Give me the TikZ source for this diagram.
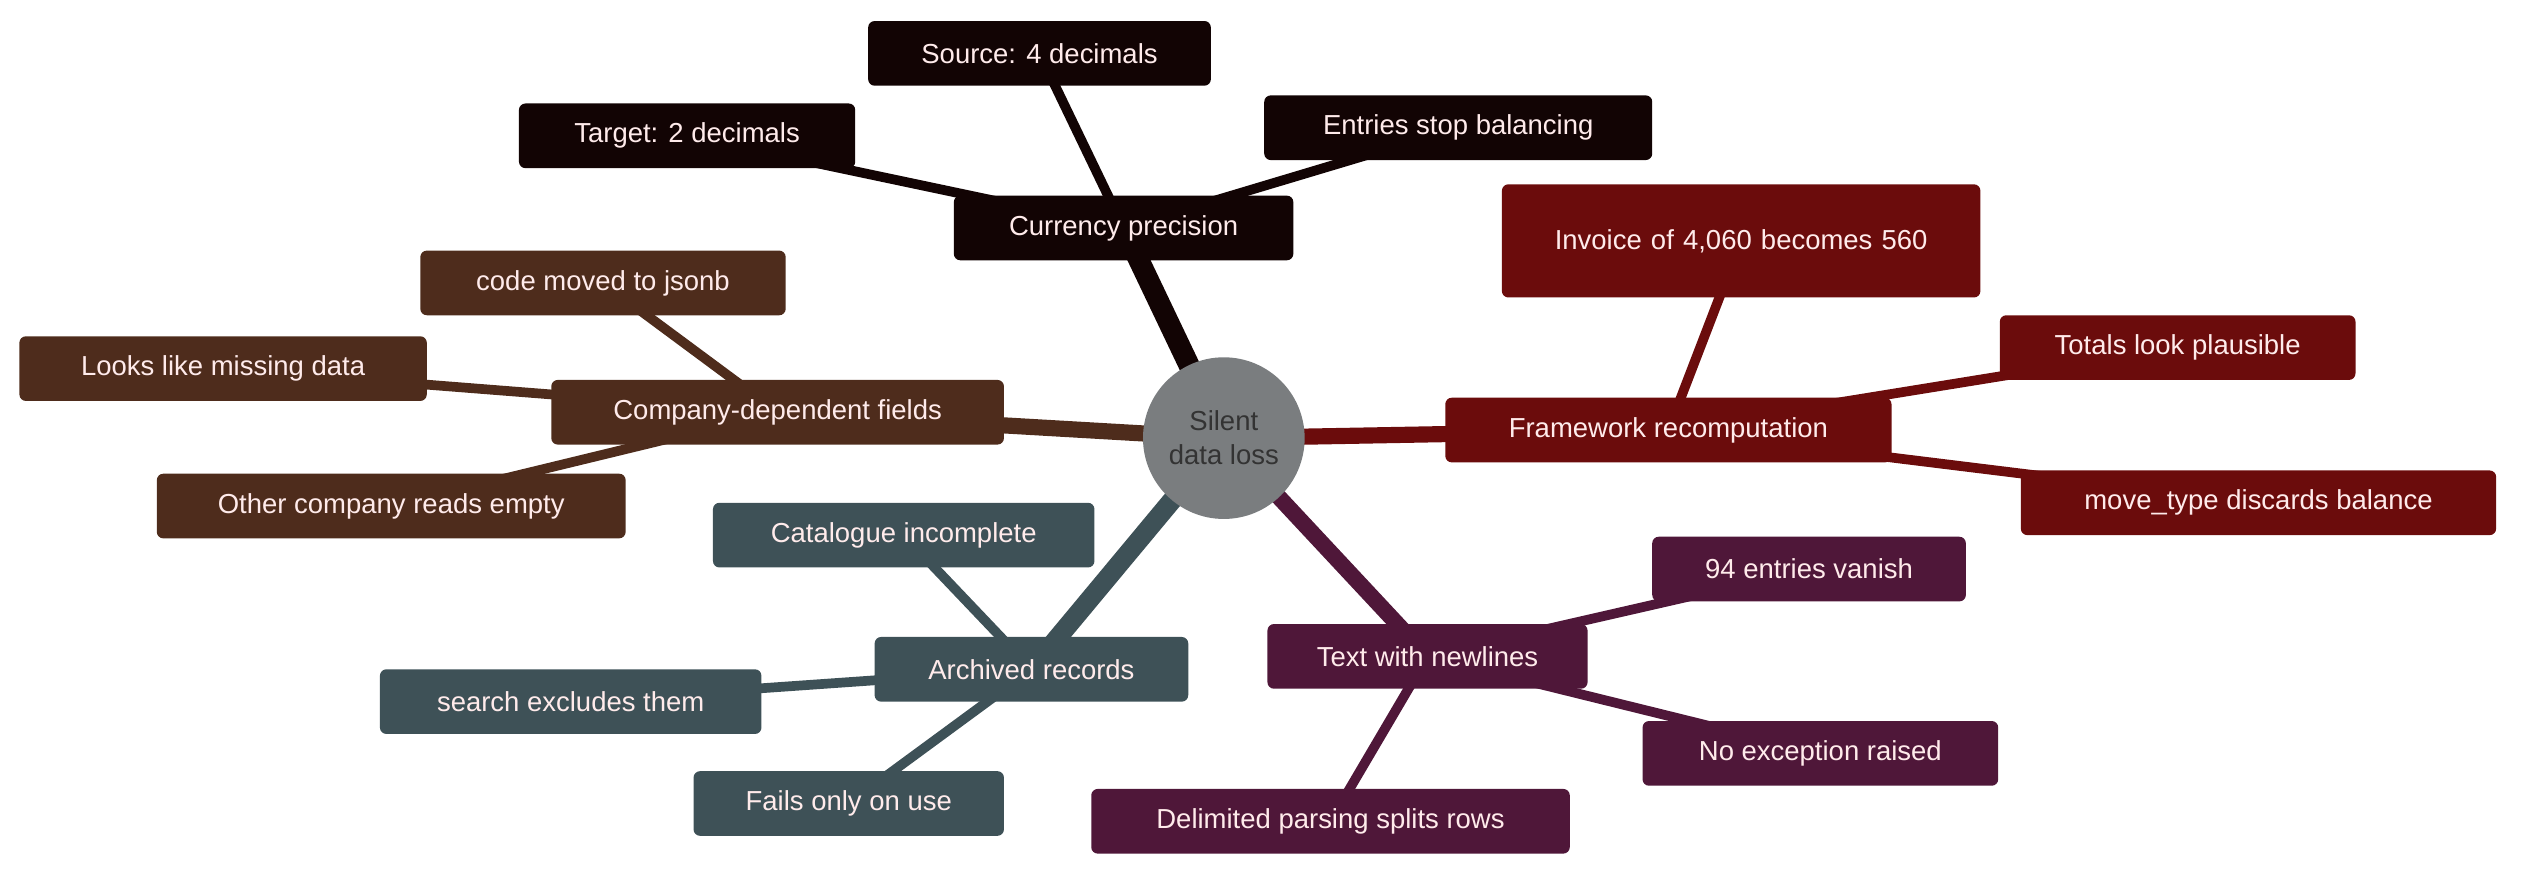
\documentclass[tikz,border=0pt]{standalone}
\usepackage{fontspec}
\setmainfont{Liberation Sans}
\usetikzlibrary{backgrounds}
\definecolor{cprec}{HTML}{120404}
\definecolor{frame}{HTML}{6B0C0C}
\definecolor{newl}{HTML}{4F1739}
\definecolor{arch}{HTML}{3E5157}
\definecolor{comp}{HTML}{4E2C1C}
\definecolor{hub}{HTML}{7A7D7F}
\tikzstyle{leaf}=[rectangle, rounded corners=2pt, text=white!92!red, minimum height=20pt,
                  inner sep=2pt, font=\fontsize{8.5}{10.5}\selectfont, align=center]
\tikzstyle{mainln}=[-, line width=5pt]
\tikzstyle{subln}=[-, line width=3pt]
\begin{document}
\begin{tikzpicture}[x=0.5pt,y=-0.5pt]
\useasboundingbox (0,0) rectangle (1560,542);

\node (HUB) [circle, fill=hub, minimum size=50pt, inner sep=0pt, align=center,
 font=\fontsize{8.5}{10.5}\selectfont, text=black!80] at (757,271) {Silent\\data loss};

\node (CUR) [leaf, fill=cprec, minimum width=105pt] at (695,141) {Currency precision};
\node (SRC) [leaf, fill=cprec, minimum width=106pt] at (643,33) {Source: 4 decimals};
\node (TGT) [leaf, fill=cprec, minimum width=104pt] at (425,84) {Target: 2 decimals};
\node (ENT) [leaf, fill=cprec, minimum width=120pt] at (902,79) {Entries stop balancing};

\node (FRM) [leaf, fill=frame, minimum width=138pt] at (1032,266) {Framework recomputation};
\node (INV) [leaf, fill=frame, minimum width=148pt, minimum height=35pt, text width=130pt] at (1077,149) {Invoice of 4,060 becomes 560};
\node (TOT) [leaf, fill=frame, minimum width=110pt] at (1347,215) {Totals look plausible};
\node (MOV) [leaf, fill=frame, minimum width=147pt] at (1397,311) {move\_type discards balance};

\node (TXT) [leaf, fill=newl, minimum width=99pt] at (883,406) {Text with newlines};
\node (VAN) [leaf, fill=newl, minimum width=97pt] at (1119,352) {94 entries vanish};
\node (EXC) [leaf, fill=newl, minimum width=110pt] at (1126,466) {No exception raised};
\node (DEL) [leaf, fill=newl, minimum width=148pt] at (823,508) {Delimited parsing splits rows};

\node (ARC) [leaf, fill=arch, minimum width=97pt] at (638,414) {Archived records};
\node (CAT) [leaf, fill=arch, minimum width=118pt] at (559,331) {Catalogue incomplete};
\node (SRCH) [leaf, fill=arch, minimum width=118pt] at (353,434) {search excludes them};
\node (FAIL) [leaf, fill=arch, minimum width=96pt] at (525,497) {Fails only on use};

\node (CMP) [leaf, fill=comp, minimum width=140pt] at (481,255) {Company-dependent fields};
\node (JSN) [leaf, fill=comp, minimum width=113pt] at (373,175) {code moved to jsonb};
\node (MIS) [leaf, fill=comp, minimum width=126pt] at (138,228) {Looks like missing data};
\node (OTH) [leaf, fill=comp, minimum width=145pt] at (242,313) {Other company reads empty};

\begin{scope}[on background layer]
 \draw[mainln, cprec, line width=6.5pt] (HUB.center) -- (CUR.center);
 \draw[mainln, frame] (HUB.center) -- (FRM.center);
 \draw[mainln, newl] (HUB.center) -- (TXT.center);
 \draw[mainln, arch, line width=6pt] (HUB.center) -- (ARC.center);
 \draw[mainln, comp] (HUB.center) -- (CMP.center);
 \draw[subln, cprec] (CUR.center) -- (SRC.center);
 \draw[subln, cprec] (CUR.center) -- (TGT.center);
 \draw[subln, cprec] (CUR.center) -- (ENT.center);
 \draw[subln, frame] (FRM.center) -- (INV.center);
 \draw[subln, frame] (FRM.center) -- (TOT.center);
 \draw[subln, frame] (FRM.center) -- (MOV.center);
 \draw[subln, newl] (TXT.center) -- (VAN.center);
 \draw[subln, newl] (TXT.center) -- (EXC.center);
 \draw[subln, newl] (TXT.center) -- (DEL.center);
 \draw[subln, arch] (ARC.center) -- (CAT.center);
 \draw[subln, arch] (ARC.center) -- (SRCH.center);
 \draw[subln, arch] (ARC.center) -- (FAIL.center);
 \draw[subln, comp] (CMP.center) -- (JSN.center);
 \draw[subln, comp] (CMP.center) -- (MIS.center);
 \draw[subln, comp] (CMP.center) -- (OTH.center);
\end{scope}

\end{tikzpicture}
\end{document}
